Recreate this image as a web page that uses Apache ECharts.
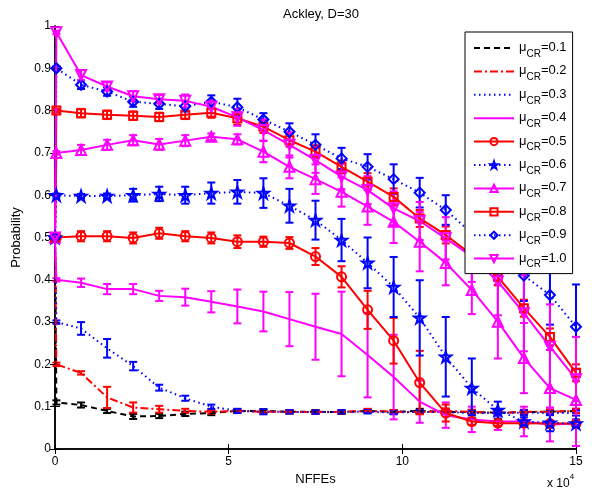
<!DOCTYPE html>
<html>
<head>
<meta charset="utf-8">
<script src="https://cdn.jsdelivr.net/npm/echarts@6/dist/echarts.min.js"></script>
<style>
  html, body { margin: 0; padding: 0; background: #fff; }
  #chart { width: 592px; height: 497px; }
</style>
</head>
<body>
<div id="chart"></div>
<script>
// Function evaluations at which the probability was recorded
const nffes = [0, 400, 7500, 15000, 22500, 30000, 37500, 45000, 52500, 60000, 67500,
  75000, 82500, 90000, 97500, 105000, 112500, 120000, 127500, 135000, 142500, 150000];

const xTicks = ['0', '5', '10', '15'];

// Mean probability per setting of mu_CR
const p01 = [0.5, 0.11, 0.104, 0.09, 0.077, 0.078, 0.083, 0.085, 0.09, 0.09, 0.088, 0.088, 0.087, 0.09, 0.088, 0.09, 0.088, 0.087, 0.086, 0.087, 0.088, 0.09];
const p02 = [0.5, 0.2, 0.18, 0.122, 0.098, 0.094, 0.09, 0.088, 0.09, 0.088, 0.088, 0.087, 0.088, 0.09, 0.088, 0.087, 0.09, 0.088, 0.085, 0.088, 0.088, 0.09];
const p03 = [0.5, 0.3, 0.285, 0.238, 0.196, 0.145, 0.12, 0.1, 0.09, 0.088, 0.088, 0.087, 0.088, 0.088, 0.086, 0.088, 0.087, 0.085, 0.085, 0.086, 0.085, 0.085];
const p04 = [0.5, 0.4, 0.393, 0.378, 0.378, 0.362, 0.359, 0.348, 0.337, 0.325, 0.307, 0.289, 0.272, 0.222, 0.17, 0.112, 0.08, 0.07, 0.065, 0.065, 0.058, 0.06];
const p05 = [0.5, 0.5, 0.503, 0.503, 0.499, 0.51, 0.503, 0.499, 0.49, 0.49, 0.487, 0.455, 0.407, 0.329, 0.256, 0.157, 0.085, 0.065, 0.061, 0.061, 0.06, 0.06];
const p06 = [0.5, 0.6, 0.598, 0.598, 0.6, 0.603, 0.6, 0.605, 0.608, 0.605, 0.575, 0.541, 0.494, 0.44, 0.383, 0.31, 0.218, 0.144, 0.092, 0.065, 0.062, 0.06];
const p07 = [0.5, 0.7, 0.707, 0.719, 0.73, 0.72, 0.729, 0.738, 0.732, 0.703, 0.667, 0.638, 0.608, 0.573, 0.537, 0.49, 0.44, 0.376, 0.301, 0.215, 0.144, 0.116];
const p08 = [0.5, 0.8, 0.794, 0.79, 0.788, 0.785, 0.79, 0.795, 0.782, 0.762, 0.73, 0.703, 0.667, 0.632, 0.596, 0.545, 0.506, 0.459, 0.407, 0.333, 0.265, 0.18];
const p09 = [0.5, 0.9, 0.861, 0.845, 0.821, 0.816, 0.81, 0.821, 0.808, 0.779, 0.75, 0.719, 0.687, 0.667, 0.638, 0.606, 0.565, 0.51, 0.46, 0.41, 0.364, 0.289];
const p10 = [0.5, 0.985, 0.884, 0.857, 0.834, 0.827, 0.823, 0.809, 0.784, 0.754, 0.719, 0.683, 0.644, 0.612, 0.569, 0.539, 0.498, 0.455, 0.396, 0.321, 0.242, 0.165];

// Half-width of the error bar at each point
const e01 = [0, 0.005, 0.006, 0.005, 0.006, 0.005, 0.005, 0.005, 0.004, 0.004, 0.004, 0.004, 0.004, 0.004, 0.004, 0.005, 0.005, 0.005, 0.005, 0.005, 0.005, 0.005];
const e02 = [0, 0.004, 0.004, 0.025, 0.012, 0.008, 0.005, 0.004, 0.004, 0.004, 0.004, 0.004, 0.004, 0.005, 0.004, 0.004, 0.006, 0.005, 0.005, 0.005, 0.005, 0.005];
const e03 = [0, 0.004, 0.015, 0.022, 0.01, 0.007, 0.006, 0.005, 0.005, 0.006, 0.004, 0.004, 0.004, 0.004, 0.004, 0.004, 0.005, 0.005, 0.006, 0.006, 0.005, 0.006];
const e04 = [0, 0.004, 0.01, 0.012, 0.012, 0.012, 0.02, 0.025, 0.04, 0.047, 0.064, 0.078, 0.1, 0.1, 0.1, 0.05, 0.03, 0.03, 0.02, 0.035, 0.04, 0.053];
const e05 = [0, 0.004, 0.012, 0.012, 0.013, 0.013, 0.012, 0.013, 0.015, 0.012, 0.014, 0.02, 0.025, 0.045, 0.054, 0.075, 0.02, 0.008, 0.006, 0.006, 0.006, 0.006];
const e06 = [0, 0.004, 0.005, 0.006, 0.015, 0.017, 0.02, 0.025, 0.028, 0.035, 0.04, 0.046, 0.05, 0.06, 0.071, 0.089, 0.094, 0.07, 0.02, 0.01, 0.02, 0.01];
const e07 = [0, 0.004, 0.012, 0.012, 0.012, 0.013, 0.013, 0.008, 0.012, 0.025, 0.027, 0.035, 0.035, 0.043, 0.05, 0.07, 0.053, 0.057, 0.087, 0.083, 0.09, 0.06];
const e08 = [0, 0.004, 0.01, 0.01, 0.01, 0.01, 0.01, 0.012, 0.015, 0.015, 0.015, 0.015, 0.015, 0.02, 0.02, 0.02, 0.02, 0.025, 0.02, 0.02, 0.02, 0.02];
const e09 = [0, 0.004, 0.01, 0.01, 0.012, 0.012, 0.012, 0.015, 0.02, 0.015, 0.02, 0.025, 0.025, 0.03, 0.035, 0.035, 0.035, 0.04, 0.05, 0.06, 0.07, 0.1];
const e10 = [0, 0.004, 0.012, 0.01, 0.012, 0.01, 0.015, 0.015, 0.02, 0.025, 0.03, 0.03, 0.03, 0.033, 0.04, 0.045, 0.05, 0.06, 0.08, 0.09, 0.1, 0.1];

const labels = ['0.1', '0.2', '0.3', '0.4', '0.5', '0.6', '0.7', '0.8', '0.9', '1.0'];

const STAR = 'path://M10 0 L12.25 6.91 L19.51 6.91 L13.63 11.18 L15.88 18.09 L10 13.82 L4.12 18.09 L6.37 11.18 L0.49 6.91 L7.75 6.91 Z';
const BLACK = '#000000', RED = '#ff0000', BLUE = '#0000ff', MAG = '#ff00ff';
const DASH = [6, 4], DASHDOT = [8, 3, 2, 3], DOT = [1.5, 3.5];

const styles = [
  { color: BLACK, dash: DASH, symbol: 'none' },
  { color: RED, dash: DASHDOT, symbol: 'none' },
  { color: BLUE, dash: DOT, symbol: 'none' },
  { color: MAG, dash: 'solid', symbol: 'none' },
  { color: RED, dash: 'solid', symbol: 'circle', size: 9 },
  { color: BLUE, dash: DOT, symbol: STAR, size: 11 },
  { color: MAG, dash: 'solid', symbol: 'triangle', size: 10 },
  { color: RED, dash: 'solid', symbol: 'rect', size: 8 },
  { color: BLUE, dash: DOT, symbol: 'diamond', size: 10 },
  { color: MAG, dash: 'solid', symbol: 'triangle', size: 10, rotate: 180 }
];
const means = [p01, p02, p03, p04, p05, p06, p07, p08, p09, p10];
const errs = [e01, e02, e03, e04, e05, e06, e07, e08, e09, e10];

function errorBars(idx) {
  const st = styles[idx];
  const data = [];
  nffes.forEach((x, i) => {
    if (errs[idx][i] > 0) data.push([x, means[idx][i] - errs[idx][i], means[idx][i] + errs[idx][i]]);
  });
  return {
    type: 'custom',
    name: 'err' + labels[idx],
    xAxisIndex: 0, yAxisIndex: 0,
    silent: true,
    renderItem: function (params, api) {
      const x = api.value(0);
      const lo = api.coord([x, api.value(1)]);
      const hi = api.coord([x, api.value(2)]);
      const w = 4;
      const style = { stroke: st.color, lineWidth: 2, fill: null };
      return {
        type: 'group',
        children: [
          { type: 'line', shape: { x1: lo[0], y1: lo[1], x2: hi[0], y2: hi[1] }, style: style },
          { type: 'line', shape: { x1: lo[0] - w, y1: lo[1], x2: lo[0] + w, y2: lo[1] }, style: style },
          { type: 'line', shape: { x1: hi[0] - w, y1: hi[1], x2: hi[0] + w, y2: hi[1] }, style: style }
        ]
      };
    },
    encode: { x: 0, y: [1, 2] },
    data: data,
    z: 2
  };
}

function meanLine(idx) {
  const st = styles[idx];
  const marked = st.symbol !== 'none';
  return {
    type: 'line',
    name: labels[idx],
    xAxisIndex: 0, yAxisIndex: 0,
    data: nffes.map((x, i) => [x, means[idx][i]]),
    symbol: st.symbol,
    symbolSize: st.size || 0,
    symbolRotate: st.rotate || 0,
    showAllSymbol: true,
    animation: false,
    lineStyle: { color: st.color, width: 2, type: st.dash },
    // unmarked series get an invisible legend symbol (no fill, no border)
    itemStyle: { color: 'rgba(0,0,0,0)', borderColor: st.color, borderWidth: marked ? 2 : 0 },
    emphasis: { disabled: true },
    z: 2
  };
}

const series = [];
for (let i = 0; i < labels.length; i++) {
  series.push(errorBars(i));
  series.push(meanLine(i));
}

const FONT = 'Liberation Sans, Arial, sans-serif';
const axisFont = { fontFamily: FONT, fontSize: 12, color: '#000' };
const tickStyle = { show: true, inside: true, length: 5, lineStyle: { color: '#000', width: 1 } };
const lineStyle = { show: true, lineStyle: { color: '#000', width: 1.5 } };

const chart = echarts.init(document.getElementById('chart'), null, { renderer: 'canvas' });
chart.setOption({
  animation: false,
  backgroundColor: '#fff',
  title: {
    text: 'Ackley, D=30',
    left: 316, top: 3, textAlign: 'center',
    textStyle: { fontFamily: FONT, fontSize: 13, fontWeight: 'normal', color: '#000' }
  },
  grid: { left: 55, right: 16, top: 26, bottom: 48 },
  xAxis: [
    {
      type: 'value', min: 0, max: 150000, interval: 50000, position: 'bottom',
      axisLine: lineStyle, axisTick: tickStyle, splitLine: { show: false },
      axisLabel: Object.assign({ margin: 7, formatter: v => xTicks[Math.round(v / 50000)] }, axisFont),
      name: 'NFFEs', nameLocation: 'middle', nameGap: 23,
      nameTextStyle: { fontFamily: FONT, fontSize: 13, color: '#000' }
    },
    {
      type: 'value', min: 0, max: 150000, interval: 50000, position: 'top',
      axisLine: lineStyle, axisTick: tickStyle, splitLine: { show: false }, axisLabel: { show: false }
    }
  ],
  yAxis: [
    {
      type: 'value', min: 0, max: 1, interval: 0.1, position: 'left',
      axisLine: lineStyle, axisTick: tickStyle, splitLine: { show: false },
      axisLabel: Object.assign({ margin: 4 }, axisFont),
      name: 'Probability', nameLocation: 'middle', nameGap: 22, nameRotate: 90,
      nameTextStyle: { fontFamily: FONT, fontSize: 13, color: '#000' }
    },
    {
      type: 'value', min: 0, max: 1, interval: 0.1, position: 'right',
      axisLine: lineStyle, axisTick: tickStyle, splitLine: { show: false }, axisLabel: { show: false }
    }
  ],
  legend: {
    data: labels,
    orient: 'vertical',
    left: 465, top: 32,
    padding: [9, 6, 4, 8],
    itemWidth: 40, itemHeight: 9, itemGap: 5.4,
    backgroundColor: '#fff',
    borderColor: '#000', borderWidth: 1,
    selectedMode: false,
    formatter: name => '{m|μ}{s|CR}{m|=' + name + '}',
    textStyle: {
      fontFamily: FONT, color: '#000',
      rich: {
        m: { fontSize: 13, lineHeight: 14, color: '#000', verticalAlign: 'top', fontFamily: FONT },
        s: { fontSize: 10, lineHeight: 10, color: '#000', verticalAlign: 'top', padding: [8, 0, 0, 0], fontFamily: FONT }
      }
    }
  },
  graphic: [
    {
      type: 'text', left: 547, top: 473,
      style: {
        text: '{a|x 10}{b|4}',
        rich: {
          a: { fontSize: 12, fontFamily: FONT, fill: '#000', verticalAlign: 'bottom', padding: [5, 0, 0, 0] },
          b: { fontSize: 8, fontFamily: FONT, fill: '#000', verticalAlign: 'top' }
        }
      }
    }
  ],
  series: series
});
</script>
</body>
</html>
